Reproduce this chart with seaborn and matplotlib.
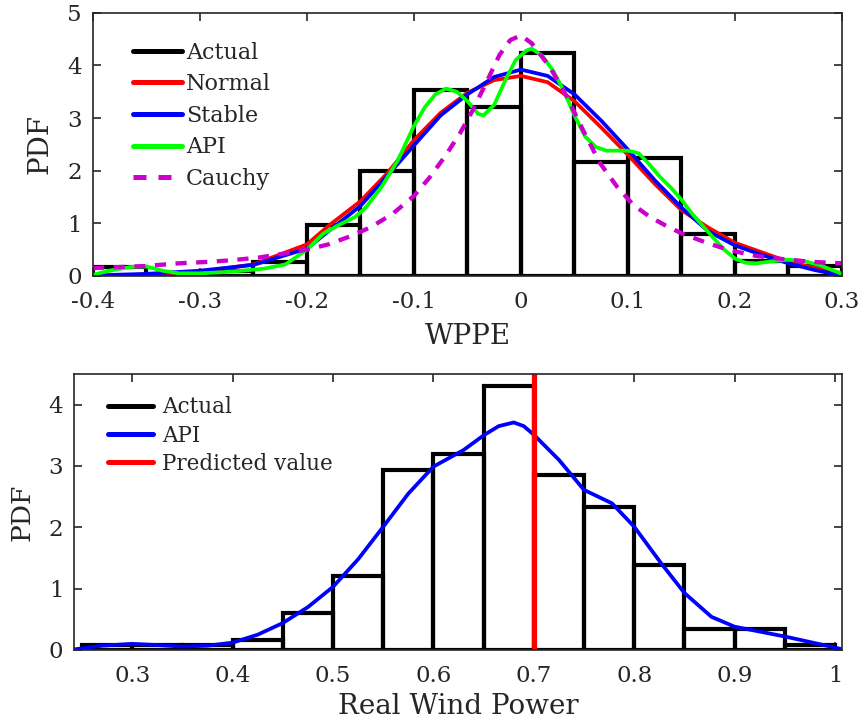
import numpy as np
import seaborn as sns
import matplotlib
matplotlib.use("Agg")
import matplotlib.pyplot as plt
from matplotlib.lines import Line2D

# ---- top panel: WPPE histogram + fitted pdfs ----
wppe_edges = [-0.4, -0.35, -0.3, -0.25, -0.2, -0.15, -0.1, -0.05, 0.0, 0.05, 0.1, 0.15, 0.2, 0.25, 0.3]
wppe_heights = [0.17, 0.01, 0.10, 0.27, 0.97, 1.99, 3.54, 3.20, 4.24, 2.16, 2.25, 0.80, 0.28, 0.18]

normal_x = [-0.40, -0.35, -0.30, -0.25, -0.20, -0.18, -0.15, -0.125, -0.10, -0.075, -0.05, -0.025, 0.0,
            0.025, 0.05, 0.075, 0.10, 0.125, 0.15, 0.175, 0.20, 0.225, 0.25, 0.275, 0.30]
normal_y = [0.00, 0.02, 0.08, 0.22, 0.60, 0.95, 1.42, 1.95, 2.58, 3.10, 3.48, 3.72, 3.80,
            3.68, 3.32, 2.82, 2.30, 1.75, 1.25, 0.92, 0.63, 0.45, 0.27, 0.15, 0.05]

stable_x = [-0.40, -0.35, -0.30, -0.25, -0.20, -0.178, -0.15, -0.125, -0.10, -0.075, -0.05, -0.025, 0.0,
            0.025, 0.05, 0.075, 0.10, 0.125, 0.15, 0.175, 0.20, 0.225, 0.25, 0.275, 0.30]
stable_y = [0.01, 0.04, 0.10, 0.21, 0.52, 0.88, 1.33, 1.90, 2.48, 3.05, 3.45, 3.78, 3.92,
            3.80, 3.45, 2.95, 2.40, 1.82, 1.30, 0.85, 0.58, 0.40, 0.24, 0.11, 0.01]

api_x = [-0.40, -0.385, -0.365, -0.35, -0.335, -0.32, -0.30, -0.28, -0.26, -0.24, -0.22, -0.20, -0.185,
         -0.17, -0.155, -0.145, -0.13, -0.115, -0.10, -0.09, -0.08, -0.07, -0.06, -0.05, -0.04, -0.035,
         -0.025, -0.015, -0.005, 0.005, 0.01, 0.02, 0.03, 0.04, 0.05, 0.06, 0.07, 0.08, 0.09, 0.10, 0.11,
         0.12, 0.13, 0.14, 0.15, 0.16, 0.17, 0.18, 0.19, 0.20, 0.21, 0.22, 0.235, 0.25, 0.265, 0.28, 0.29, 0.30]
api_y = [0.02, 0.10, 0.17, 0.18, 0.10, 0.05, 0.05, 0.07, 0.10, 0.14, 0.22, 0.50, 0.80,
         0.97, 1.12, 1.30, 1.70, 2.20, 2.85, 3.20, 3.45, 3.56, 3.50, 3.32, 3.08, 3.05,
         3.25, 3.70, 4.10, 4.28, 4.32, 4.18, 3.90, 3.52, 3.05, 2.65, 2.45, 2.38, 2.38, 2.38, 2.33,
         2.12, 1.88, 1.68, 1.45, 1.18, 0.95, 0.72, 0.50, 0.33, 0.25, 0.24, 0.28, 0.31, 0.28, 0.20, 0.12, 0.04]

cauchy_x = [-0.40, -0.375, -0.35, -0.32, -0.29, -0.27, -0.245, -0.22, -0.20, -0.18, -0.16, -0.14, -0.12,
            -0.10, -0.085, -0.07, -0.057, -0.045, -0.032, -0.02, -0.01, 0.0, 0.01, 0.027, 0.043, 0.058,
            0.074, 0.09, 0.105, 0.12, 0.135, 0.15, 0.175, 0.195, 0.22, 0.245, 0.27, 0.30]
cauchy_y = [0.15, 0.17, 0.19, 0.24, 0.27, 0.30, 0.35, 0.43, 0.50, 0.60, 0.75, 0.93, 1.18,
            1.52, 1.88, 2.30, 2.71, 3.15, 3.69, 4.20, 4.48, 4.57, 4.42, 3.97, 3.40, 2.77,
            2.14, 1.69, 1.35, 1.13, 0.96, 0.81, 0.62, 0.49, 0.38, 0.32, 0.27, 0.24]

wppe_xticks = [-0.4, -0.3, -0.2, -0.1, 0.0, 0.1, 0.2, 0.3]
wppe_xticklabels = ["-0.4", "-0.3", "-0.2", "-0.1", "0", "0.1", "0.2", "0.3"]
wppe_yticks = [0, 1, 2, 3, 4, 5]

# ---- bottom panel: real wind power ----
power_edges = [0.25, 0.3, 0.35, 0.4, 0.45, 0.5, 0.55, 0.6, 0.65, 0.7, 0.75, 0.8, 0.85, 0.9, 0.95, 1.0]
power_heights = [0.08, 0.08, 0.08, 0.17, 0.60, 1.20, 2.93, 3.19, 4.31, 2.85, 2.33, 1.38, 0.35, 0.35, 0.08]

power_api_x = [0.2423, 0.27, 0.30, 0.325, 0.35, 0.375, 0.40, 0.425, 0.45, 0.475, 0.50, 0.525, 0.55, 0.575,
               0.60, 0.63, 0.65, 0.665, 0.68, 0.69, 0.70, 0.725, 0.75, 0.778, 0.80, 0.827, 0.85, 0.877,
               0.90, 0.925, 0.95, 0.975, 1.00, 1.0073]
power_api_y = [0.01, 0.07, 0.10, 0.08, 0.055, 0.07, 0.12, 0.25, 0.44, 0.70, 1.03, 1.48, 2.01, 2.55,
               2.99, 3.26, 3.50, 3.65, 3.71, 3.65, 3.51, 3.10, 2.61, 2.39, 2.01, 1.41, 0.93, 0.54,
               0.38, 0.30, 0.22, 0.13, 0.04, 0.01]
predicted_value = [0.7]

power_xticks = [0.3, 0.4, 0.5, 0.6, 0.7, 0.8, 0.9, 1.0]
power_xticklabels = ["0.3", "0.4", "0.5", "0.6", "0.7", "0.8", "0.9", "1"]
power_yticks = [0, 1, 2, 3, 4]

sns.set_style("ticks")
plt.rcParams["font.family"] = ["DejaVu Serif"]
plt.rcParams["axes.unicode_minus"] = False
txt = "#262626"

fig = plt.figure(figsize=(8.6, 7.23), dpi=100)
ax1 = fig.add_axes([0.1081, 0.6183, 0.8709, 0.3641])
ax2 = fig.add_axes([0.0865, 0.1010, 0.8929, 0.3817])

bar_lw = 3.0
lw = 2.7

# top
centers1 = (np.array(wppe_edges[:-1]) + np.array(wppe_edges[1:])) / 2
sns.histplot(x=centers1, weights=wppe_heights, bins=wppe_edges, fill=False,
             color="black", linewidth=bar_lw, ax=ax1)
sns.lineplot(x=normal_x, y=normal_y, color="red", lw=lw, sort=False, ax=ax1)
sns.lineplot(x=stable_x, y=stable_y, color="blue", lw=lw, sort=False, ax=ax1)
sns.lineplot(x=api_x, y=api_y, color="#00ff00", lw=lw, sort=False, ax=ax1)
sns.lineplot(x=cauchy_x, y=cauchy_y, color="#cc00cc", lw=lw + 0.4, sort=False, ax=ax1)
ax1.lines[-1].set_dashes([2.6, 2.2])

ax1.set_xlim(-0.4, 0.3)
ax1.set_ylim(0, 5)
ax1.set_xticks(wppe_xticks)
ax1.set_xticklabels(wppe_xticklabels)
ax1.set_yticks(wppe_yticks)
ax1.set_xlabel("WPPE", fontsize=20, color=txt, labelpad=7)
ax1.set_ylabel("PDF", fontsize=20, color=txt, labelpad=10)

h1 = [Line2D([], [], color="black", lw=3.6),
      Line2D([], [], color="red", lw=3.6),
      Line2D([], [], color="blue", lw=3.6),
      Line2D([], [], color="#00ff00", lw=3.6),
      Line2D([], [], color="#cc00cc", lw=3.6, dashes=[2.6, 2.4])]
ax1.legend(h1, ["Actual", "Normal", "Stable", "API", "Cauchy"], loc="upper left",
           bbox_to_anchor=(0.053, 0.89), frameon=False, fontsize=16, borderpad=0,
           borderaxespad=0, handlelength=2.2, handletextpad=0.2, labelspacing=0.43)

# bottom
centers2 = (np.array(power_edges[:-1]) + np.array(power_edges[1:])) / 2
sns.histplot(x=centers2, weights=power_heights, bins=power_edges, fill=False,
             color="black", linewidth=bar_lw, ax=ax2)
sns.lineplot(x=power_api_x, y=power_api_y, color="blue", lw=lw, sort=False, ax=ax2)
for v in predicted_value:
    ax2.axvline(v, color="red", lw=3.8)

ax2.set_xlim(0.2423, 1.0073)
ax2.set_ylim(0, 4.5)
ax2.set_xticks(power_xticks)
ax2.set_xticklabels(power_xticklabels)
ax2.set_yticks(power_yticks)
ax2.set_xlabel("Real Wind Power", fontsize=20, color=txt, labelpad=4)
ax2.set_ylabel("PDF", fontsize=19, color=txt, labelpad=10)

h2 = [Line2D([], [], color="black", lw=3.6),
      Line2D([], [], color="blue", lw=3.6),
      Line2D([], [], color="red", lw=3.6)]
ax2.legend(h2, ["Actual", "API", "Predicted value"], loc="upper left",
           bbox_to_anchor=(0.044, 0.92), frameon=False, fontsize=15.5, borderpad=0,
           borderaxespad=0, handlelength=2.1, handletextpad=0.4, labelspacing=0.3)

for ax in (ax1, ax2):
    ax.tick_params(direction="in", top=True, right=True, length=6, width=1.2,
                   labelsize=16.5, colors=txt)
    ax.tick_params(axis="x", pad=11)
    ax.tick_params(axis="y", pad=8)
    for s in ax.spines.values():
        s.set_linewidth(1.2)
        s.set_color(txt)

fig.savefig("out.png", dpi=100)
